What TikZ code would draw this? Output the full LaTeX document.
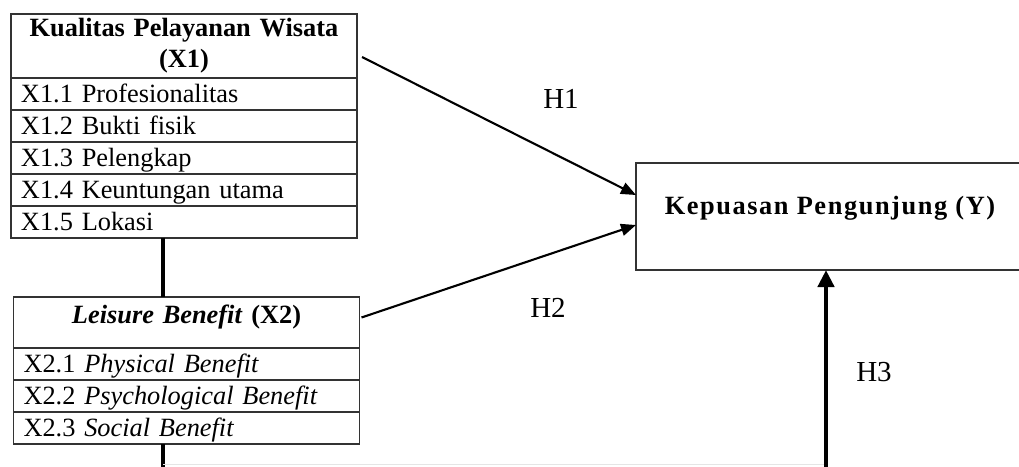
\documentclass[tikz,border=0pt]{standalone}
\usepackage{fontspec}
\setmainfont{Liberation Serif}
\newfontfamily\spacedfont[LetterSpace=6]{Liberation Serif}
\usetikzlibrary{positioning, arrows.meta, calc}

\begin{document}
\begin{tikzpicture}
	% Define styles
	\tikzset{
		title/.style={rectangle, draw=black!80, line width=0.8pt, outer sep=0pt, minimum width=6.92cm, text width=6.52cm, inner xsep=0.2cm, inner ysep=0pt, align=center, font=\fontsize{15}{17.6}\selectfont\bfseries},
		row/.style={rectangle, draw=black!80, line width=0.8pt, outer sep=0pt, minimum width=6.92cm, text width=6.52cm, inner xsep=0.2cm, inner ysep=0pt, minimum height=0.64cm, text height=0.42cm, text depth=0.1cm, align=left, font=\fontsize{15}{17.6}\selectfont},
		result/.style={rectangle, draw=black!80, line width=1pt, outer sep=0pt, minimum width=7.76cm, minimum height=2.14cm, inner sep=0pt, text height=0.4cm, text depth=0.5cm, font=\fontsize{15}{17.6}\spacedfont\bfseries},
		hyp/.style={font=\fontsize{16.5}{20}\selectfont},
		line/.style={draw, line width=1.2pt, -{Triangle[length=0.3cm, width=0.24cm]}},
		thickline/.style={draw, line width=2.8pt},
		bigarrow/.style={draw, line width=2.8pt, -{Triangle[length=0.34cm, width=0.32cm]}}
	}
	\useasboundingbox (0,0) rectangle (20.38,-9.32);
	
	% Nodes
	\node[title, minimum height=1.28cm] (x1) at (3.68,-0.92) {Kualitas Pelayanan Wisata\\(X1)};
	\node[row, below=0pt of x1] (x11) {X1.1 Profesionalitas};
	\node[row, below=0pt of x11] (x12) {X1.2 Bukti fisik};
	\node[row, below=0pt of x12] (x13) {X1.3 Pelengkap};
	\node[row, below=0pt of x13] (x14) {X1.4 Keuntungan utama};
	\node[row, below=0pt of x14] (x15) {X1.5 Lokasi};
	
	\node[title, minimum height=1.02cm, text height=0.4cm, text depth=0.35cm] (x2) at (3.73,-6.45) {\textit{Leisure Benefit} (X2)};
	\node[row, below=0pt of x2] (x21) {X2.1 \textit{Physical Benefit}};
	\node[row, below=0pt of x21] (x22) {X2.2 \textit{Psychological Benefit}};
	\node[row, below=0pt of x22] (x23) {X2.3 \textit{Social Benefit}};
	
	\node[result, anchor=north west] (yk) at (12.72,-3.26) {Kepuasan Pengunjung (Y)};
	
	\node[hyp] (h1) at (11.22,-1.98) {H1};
	\node[hyp] (h2) at (10.96,-6.15) {H2};
	\node[hyp] (h3) at (17.48,-7.44) {H3};
	
	\coordinate (vx) at (3.26,0);
	\coordinate (b1) at (3.26,-9.45);
	\coordinate (b2) at (16.52,-9.45);
	\coordinate (g1) at (3.26,-9.29);
	\coordinate (g2) at (16.52,-9.29);
	
	% Arrows
	\draw[line] ([xshift=0.1cm,yshift=-0.22cm]x1.east) -- ([yshift=0.43cm]yk.west);
	\draw[line] ([xshift=0.04cm,yshift=0.1cm]x2.east) -- ([yshift=-0.17cm]yk.west);
	
	\draw[thickline] (x15.south -| vx) -- (x2.north -| vx);
	\draw[thickline] (x23.south -| b1) -- (b1);
	\draw[black!10, line width=0.6pt] (g1) -- (g2);
	\draw[bigarrow] (b2) -- (yk.south -| b2);
	
\end{tikzpicture}
\end{document}
